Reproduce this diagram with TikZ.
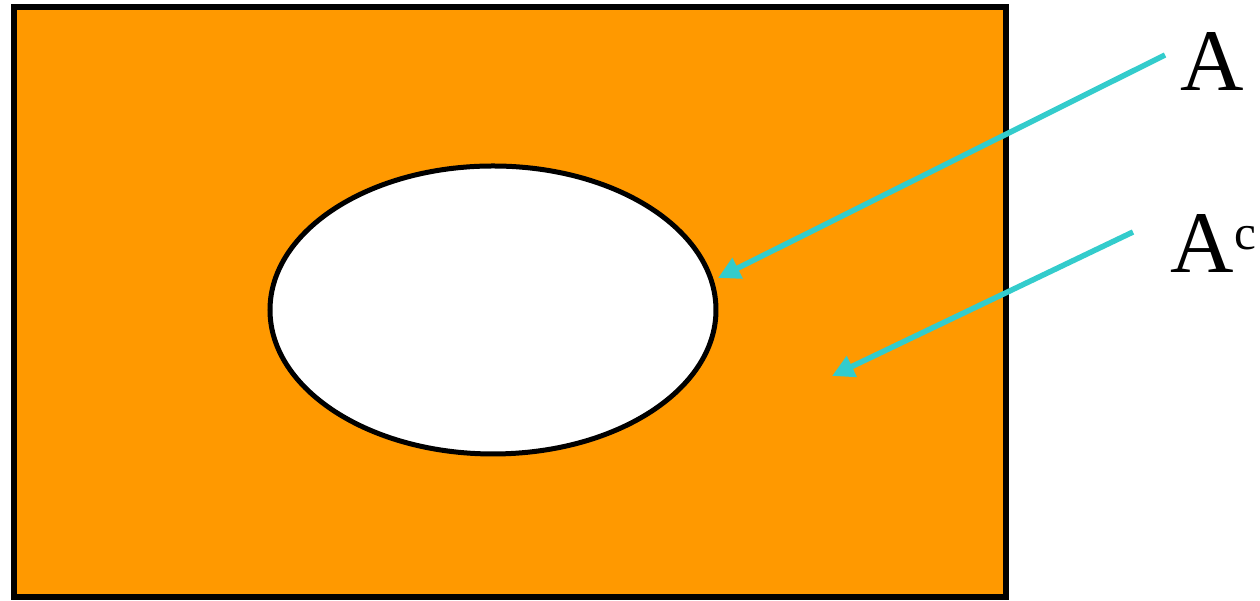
\documentclass[tikz,border=0pt]{standalone}
\usepackage{fontspec}
\newfontfamily\labelfont{Liberation Serif}
\usetikzlibrary{arrows.meta,shapes.geometric}
\definecolor{setorange}{RGB}{255,153,0}
\definecolor{pointcyan}{RGB}{51,204,204}

\begin{document}
\begin{tikzpicture}[font=\labelfont\fontsize{25}{30}\selectfont]
\useasboundingbox (0,0) rectangle (12.6,6.01);
\draw[draw=black,fill=setorange,line width=0.6mm] (0.14,0.04) rectangle (10.06,5.94);
\node[ellipse,draw=black,fill=white,line width=0.5mm,minimum width=4.46cm,minimum height=2.88cm,inner sep=0pt] (setA) at (4.93,2.91) {};
\node[anchor=base west,inner sep=0pt] (lblA) at (11.80,5.10) {A};
\node[anchor=base west,inner sep=0pt] (lblAc) at (11.70,3.28) {A\raisebox{2.3mm}{\fontsize{14}{14}\selectfont c}};
\coordinate (tailA) at (11.65,5.46);
\coordinate (tipA) at (7.18,3.23);
\coordinate (tailAc) at (11.33,3.69);
\coordinate (tipAc) at (8.32,2.25);
\draw[-{Triangle[length=2.2mm,width=2.2mm]}, draw=pointcyan, line width=0.55mm] (tailA) -- (tipA);
\draw[-{Triangle[length=2.2mm,width=2.2mm]}, draw=pointcyan, line width=0.55mm] (tailAc) -- (tipAc);
\end{tikzpicture}
\end{document}
